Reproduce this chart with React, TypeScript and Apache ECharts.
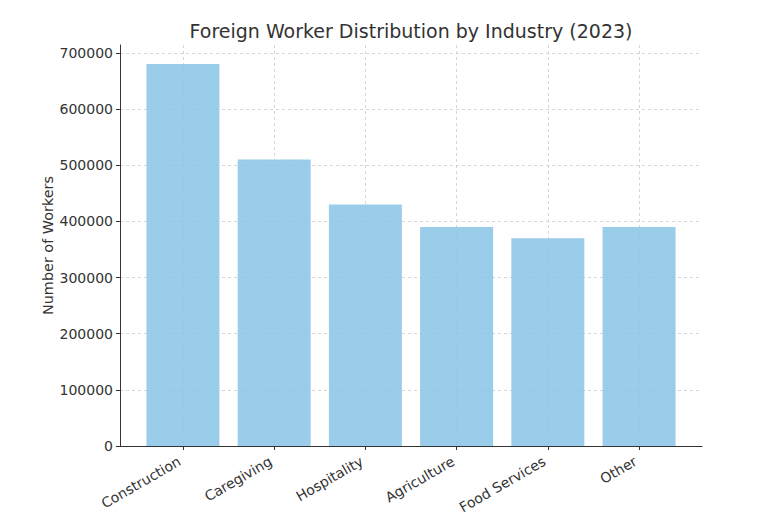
import React, { useEffect, useRef } from "react";
import * as echarts from "echarts";

const categories = ["Construction", "Caregiving", "Hospitality", "Agriculture", "Food Services", "Other"];
const workers = [680000, 510000, 430000, 390000, 370000, 390000];
const yTicks = [0, 100000, 200000, 300000, 400000, 500000, 600000, 700000];

export default function App() {
  const ref = useRef<HTMLDivElement>(null);
  useEffect(() => {
    if (!ref.current) return;
    const chart = echarts.init(ref.current, null, { renderer: "svg" });
    const font = "DejaVu Sans";
    const xTicks = categories.map((_, i) => i);
    chart.setOption({
      animation: false,
      backgroundColor: "#ffffff",
      title: {
        text: "Foreign Worker Distribution by Industry (2023)",
        left: 398,
        textAlign: "center",
        top: 8,
        textStyle: { fontFamily: font, fontSize: 19, fontWeight: "normal", color: "#333333" },
      },
      grid: { left: 112, right: 58, top: 37, bottom: 68, containLabel: false, outerBoundsMode: "none" },
      xAxis: {
        type: "value",
        min: -0.69,
        max: 5.69,
        axisLine: { show: true, onZero: false, lineStyle: { color: "#333333", width: 1 } },
        axisTick: { show: true, length: 4, customValues: xTicks, lineStyle: { color: "#333333" } },
        axisLabel: {
          customValues: xTicks,
          rotate: 30,
          fontFamily: font,
          fontSize: 14,
          color: "#333333",
          margin: 12,
          padding: [0, 4, 0, 0],
          formatter: (v: number) => categories[Math.round(v)] ?? "",
        },
        splitLine: {
          show: true,
          customValues: xTicks,
          lineStyle: { color: "#cccccc", type: [3, 3], width: 0.8 },
        },
      },
      yAxis: {
        type: "value",
        min: 0,
        max: 714000,
        name: "Number of Workers",
        nameLocation: "middle",
        nameGap: 65,
        nameMoveOverlap: false,
        nameTextStyle: { fontFamily: font, fontSize: 14.4, color: "#333333" },
        axisLine: { show: true, onZero: false, lineStyle: { color: "#333333", width: 1 } },
        axisTick: { show: true, length: 4, customValues: yTicks, lineStyle: { color: "#333333" } },
        axisLabel: {
          customValues: yTicks,
          fontFamily: font,
          fontSize: 14,
          color: "#333333",
          margin: 7,
          formatter: (v: number) => String(v),
        },
        splitLine: {
          show: true,
          customValues: yTicks,
          lineStyle: { color: "#cccccc", type: [3, 3], width: 0.8 },
        },
      },
      series: [
        {
          type: "bar",
          data: workers.map((v, i) => [i, v]),
          barWidth: 73,
          itemStyle: { color: "rgba(135, 196, 230, 0.85)" },
          z: 1,
        },
      ],
    });
    return () => chart.dispose();
  }, []);
  return <div ref={ref} style={{ width: 752, height: 506 }} />;
}
